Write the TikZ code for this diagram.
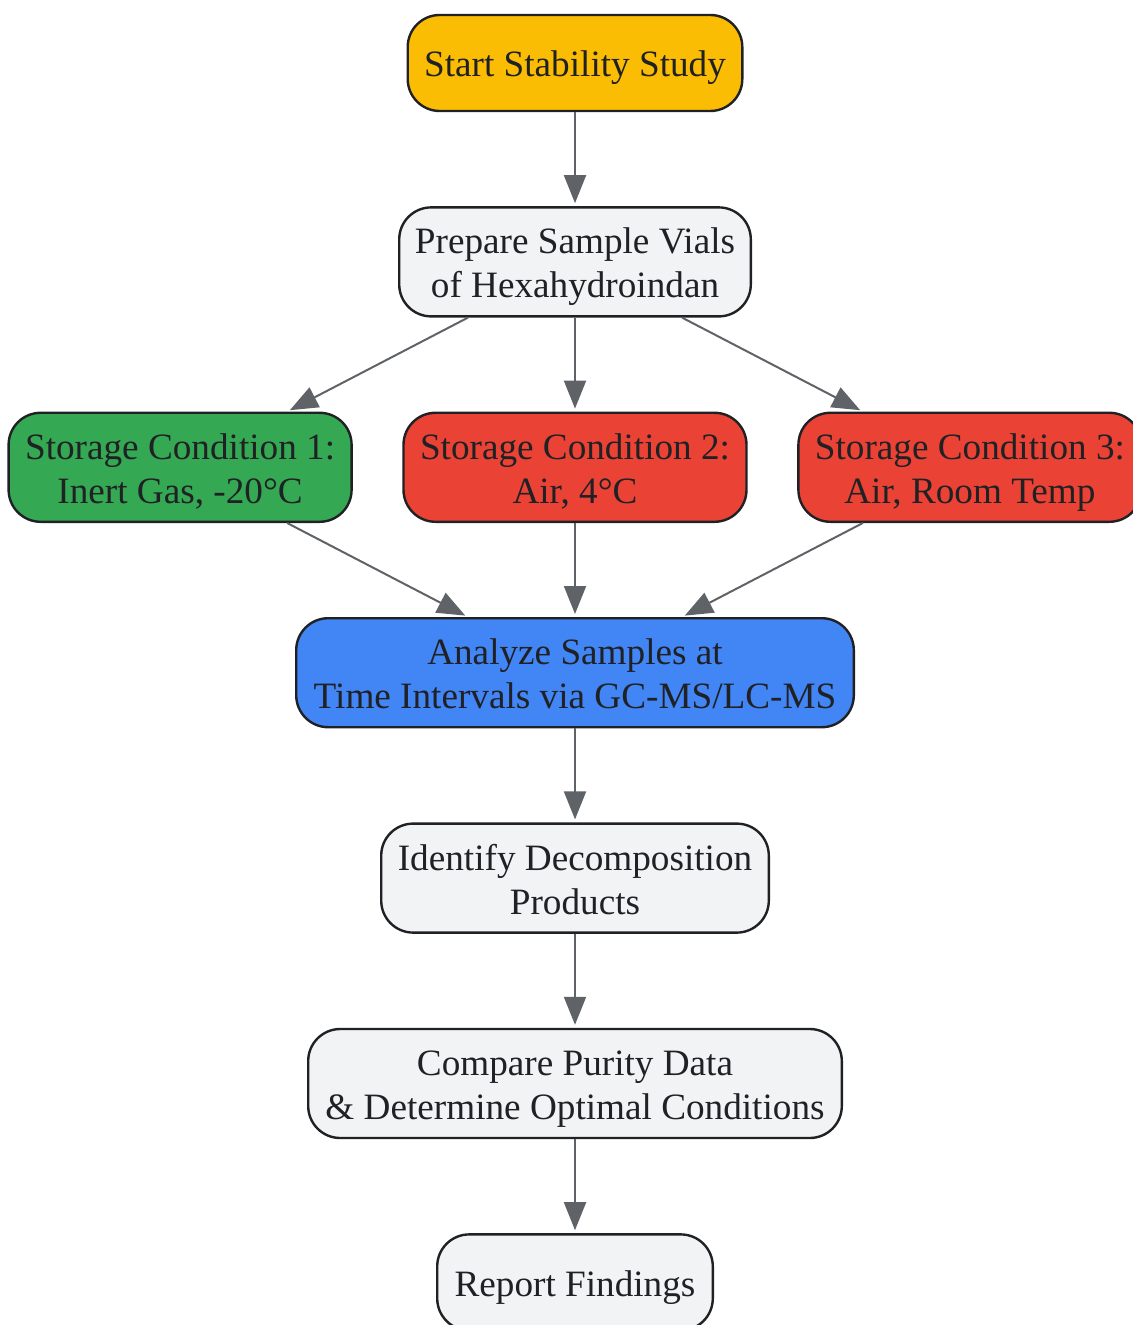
\documentclass[tikz,border=0pt]{standalone}
\usepackage{fontspec}
\setmainfont{Liberation Serif}
\usepackage{tikz}
\usetikzlibrary{arrows.meta,positioning}
\definecolor{ink}{HTML}{202124}
\definecolor{pilgra}{HTML}{5F6368}
\definecolor{gul}{HTML}{FBBC04}
\definecolor{gron}{HTML}{34A853}
\definecolor{rod}{HTML}{EA4335}
\definecolor{bla}{HTML}{4285F4}
\definecolor{lys}{HTML}{F1F3F4}
\tikzset{
    >={Triangle[length=14pt,width=11pt]},
    boks/.style={
           rectangle, rounded corners=16pt,
           draw=ink, line width=1.2pt,
           fill=lys, text=ink,
           font=\fontsize{18.6}{22}\selectfont,
           minimum height=54.5pt,
           text height=38pt, text depth=2pt,
           inner sep=3pt,
           align=center},
    enlinje/.style={
           minimum height=48pt,
           text height=16pt},
    pil/.style={
           ->,
           draw=pilgra, line width=1pt,
           shorten >=1.5pt}
}
\begin{document}
\begin{tikzpicture}[x=0.5pt, y=-0.5pt, node distance=47pt and 24.75pt]
        \useasboundingbox (0,0) rectangle (1132,1325);
        \node[boks, enlinje, fill=gul, minimum width=167.3pt] (start) at (575,63) {Start Stability Study};
        \node[boks, minimum width=175.8pt, below=of start] (prep) {Prepare Sample Vials\\of Hexahydroindan};
        \node[boks, fill=rod, minimum width=171.5pt, below=of prep] (sc2) {Storage Condition 2:\\Air, 4°C};
        \node[boks, fill=gron, minimum width=171.5pt, left=of sc2] (sc1) {Storage Condition 1:\\Inert Gas, -20°C};
        \node[boks, fill=rod, minimum width=171.5pt, right=of sc2] (sc3) {Storage Condition 3:\\Air, Room Temp};
        \node[boks, fill=bla, minimum width=278.8pt, below=of sc2] (anal) {Analyze Samples at\\Time Intervals via GC-MS/LC-MS};
        \node[boks, minimum width=193.8pt, below=of anal] (ident) {Identify Decomposition\\Products};
        \node[boks, minimum width=266.8pt, below=of ident] (komp) {Compare Purity Data\\\& Determine Optimal Conditions};
        \node[boks, enlinje, minimum width=137.8pt, below=of komp] (rapp) {Report Findings};
        \draw[pil] (start) -- (prep);
        \draw[pil] (prep) -- (sc1);
        \draw[pil] (prep) -- (sc2);
        \draw[pil] (prep) -- (sc3);
        \draw[pil] (sc1) -- (anal);
        \draw[pil] (sc2) -- (anal);
        \draw[pil] (sc3) -- (anal);
        \draw[pil] (anal) -- (ident);
        \draw[pil] (ident) -- (komp);
        \draw[pil] (komp) -- (rapp);
    \end{tikzpicture}
\end{document}
